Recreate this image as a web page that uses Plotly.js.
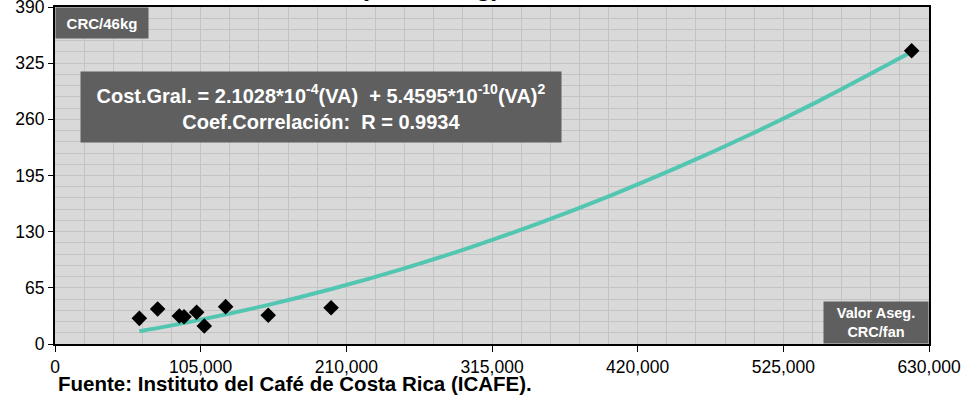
<!DOCTYPE html>
<html>
<head>
<meta charset="utf-8">
<script src="https://cdn.plot.ly/plotly-3.0.1.min.js"></script>
<style>html,body{margin:0;padding:0;background:#fff;}#chart{width:962px;height:402px;}</style>
</head>
<body>
<div id="chart"></div>
<script>
// Observed data: Valor Asegurado (CRC/fan) vs Costo General (CRC/46kg)
const valorAseg = [60800, 74000, 89600, 93000, 102100, 107600, 123000, 153700, 199000, 617500];
const costoGral = [29.7, 40.5, 32.4, 31.6, 36.7, 20.8, 43.2, 33.2, 42.0, 339.4];

// Trend line
const trendX = [60800, 100000, 150000, 200000, 250000, 300000, 350000, 400000, 450000, 500000, 550000, 617500];
const trendY = [14.8, 26.5, 43.8, 63.9, 86.7, 112.2, 140.5, 171.5, 205.2, 241.6, 280.8, 338.1];

const xTickVals = [0, 105000, 210000, 315000, 420000, 525000, 630000];
const xTickText = ["0", "105,000", "210,000", "315,000", "420,000", "525,000", "630,000"];
const yTickVals = [0, 65, 130, 195, 260, 325, 390];

const equationText = "Cost.Gral. = 2.1028*10<sup>-4</sup>(VA)\u00a0 + 5.4595*10<sup>-10</sup>(VA)<sup>2</sup><br>Coef.Correlación:\u00a0 R = 0.9934";
const yUnitText = "CRC/46kg";
const xUnitText = "Valor Aseg.<br>CRC/fan";
const sourceText = "Fuente: Instituto del Café de Costa Rica (ICAFE).";
const titleFragment = "(CRC/46kg)";

const FONT = "Liberation Sans, Arial, sans-serif";
const BOX = "#5f5f5f";
const GRID = "#c3c3c3";

const traces = [
  {
    x: trendX, y: trendY, type: "scatter", mode: "lines",
    line: {color: "#52c6b1", width: 4, shape: "spline"},
    hoverinfo: "skip", showlegend: false
  },
  {
    x: valorAseg, y: costoGral, type: "scatter", mode: "markers",
    marker: {symbol: "diamond", size: 12, color: "#000000"},
    showlegend: false
  }
];

const layout = {
  width: 962, height: 402,
  margin: {l: 55, r: 33, t: 7, b: 58},
  paper_bgcolor: "#ffffff",
  plot_bgcolor: "#d9d9d9",
  font: {family: FONT, size: 17, color: "#000"},
  showlegend: false,
  xaxis: {
    range: [0, 630000], autorange: false,
    tickmode: "array", tickvals: xTickVals, ticktext: xTickText,
    ticks: "outside", ticklen: 6, tickwidth: 1, tickcolor: "#000",
    ticklabeloverflow: "allow",
    showgrid: true, gridcolor: GRID, gridwidth: 1,
    minor: {dtick: 21000, tick0: 0, showgrid: true, gridcolor: GRID, gridwidth: 1, ticks: ""},
    showline: true, linecolor: "#000", linewidth: 2, mirror: true,
    zeroline: false,
    tickfont: {family: FONT, size: 17.5, color: "#000"}
  },
  yaxis: {
    range: [0, 390], autorange: false,
    tickmode: "array", tickvals: yTickVals,
    ticks: "outside", ticklen: 5, tickwidth: 1, tickcolor: "#000",
    ticklabeloverflow: "allow",
    showgrid: true, gridcolor: GRID, gridwidth: 1,
    minor: {dtick: 13, tick0: 0, showgrid: true, gridcolor: GRID, gridwidth: 1, ticks: ""},
    showline: true, linecolor: "#000", linewidth: 2, mirror: true,
    zeroline: false,
    tickfont: {family: FONT, size: 17.5, color: "#000"}
  },
  annotations: [
    {
      xref: "paper", yref: "paper", x: 0.304, y: 0.703,
      xanchor: "center", yanchor: "middle",
      text: equationText, showarrow: false,
      bgcolor: BOX, width: 480, height: 70, borderpad: 0,
      font: {family: FONT, size: 20, color: "#ffffff", weight: "bold"},
      align: "center"
    },
    {
      xref: "paper", yref: "paper", x: 0, y: 1,
      xanchor: "left", yanchor: "top",
      text: "<b>" + yUnitText + "</b>", showarrow: false,
      bgcolor: BOX, width: 92, height: 30, borderpad: 0,
      font: {family: FONT, size: 15, color: "#ffffff"}
    },
    {
      xref: "paper", yref: "paper", x: 1, y: 0,
      xanchor: "right", yanchor: "bottom",
      text: "<b>" + xUnitText + "</b>", showarrow: false,
      bgcolor: BOX, width: 104, height: 41, borderpad: 0,
      font: {family: FONT, size: 14.5, color: "#ffffff"}
    },
    {
      xref: "paper", yref: "paper", x: 0.001, y: -0.1165,
      xanchor: "left", yanchor: "middle",
      text: "<b>" + sourceText + "</b>", showarrow: false,
      font: {family: FONT, size: 20.5, color: "#000"}
    },
    {
      xref: "paper", yref: "paper", x: 0.3467, y: 1.0089,
      xanchor: "left", yanchor: "bottom",
      text: "<b>" + titleFragment + "</b>", showarrow: false,
      font: {family: FONT, size: 26, color: "#000"}
    }
  ]
};

Plotly.newPlot("chart", traces, layout, {displayModeBar: false, staticPlot: true});
</script>
</body>
</html>
